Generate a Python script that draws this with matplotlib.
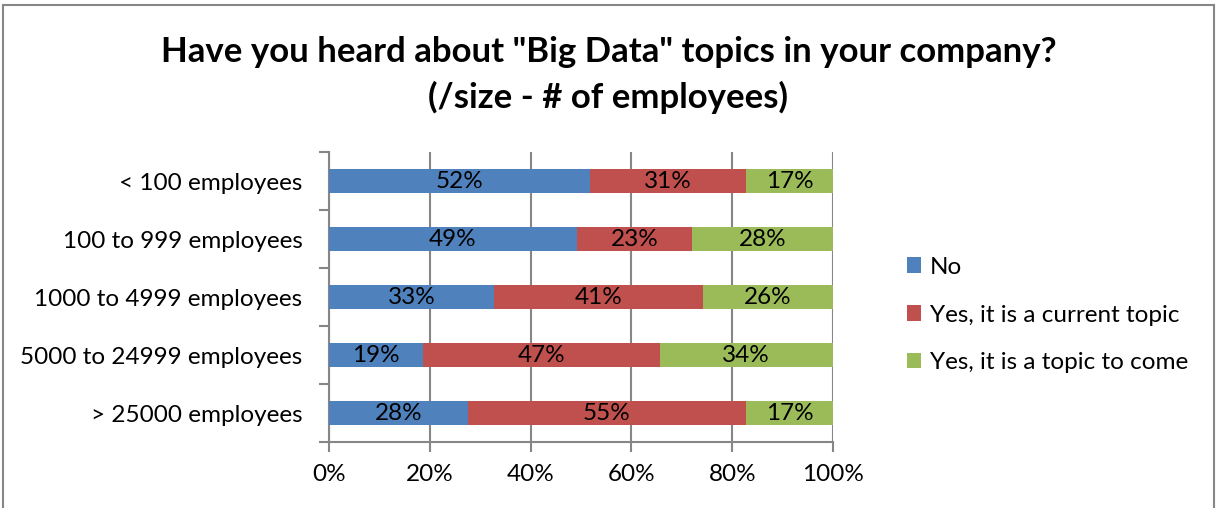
import matplotlib.pyplot as plt
import matplotlib.patches as mpatches
from matplotlib.ticker import FixedLocator, PercentFormatter

plt.rcParams['font.family'] = ['Lato', 'DejaVu Sans']

categories = ["< 100 employees", "100 to 999 employees", "1000 to 4999 employees",
              "5000 to 24999 employees", "> 25000 employees"]
no_vals = [51.7, 49.2, 32.8, 18.7, 27.5]
current_vals = [31.1, 22.8, 41.4, 46.9, 55.3]
come_vals = [17.2, 28.0, 25.8, 34.4, 17.2]
series_names = ["No", "Yes, it is a current topic", "Yes, it is a topic to come"]
colors = ["#4F81BD", "#C0504D", "#9BBB59"]
grey = "#868686"

fig = plt.figure(figsize=(12.17, 5.08), dpi=100)
fig.patches.append(mpatches.Rectangle((3 / 1217, -0.05), 1211 / 1217, 1.05 - 5 / 508,
                                      transform=fig.transFigure, fill=False,
                                      edgecolor=grey, linewidth=1.5))

ax = fig.add_axes([329 / 1217, 1 - 442 / 508, 504 / 1217, 290 / 508])

ypos = list(range(len(categories)))
left = [0] * len(categories)
for vals, name, col in zip([no_vals, current_vals, come_vals], series_names, colors):
    fracs = [v / 100 for v in vals]
    bars = ax.barh(ypos, fracs, left=left, height=0.4, color=col, label=name, zorder=3)
    for y, l, f, v in zip(ypos, left, fracs, vals):
        ax.text(l + f / 2, y, "%d%%" % round(v), ha="center", va="center",
                fontsize=17.5, color="black", zorder=4)
    left = [a + b for a, b in zip(left, fracs)]

ax.set_xlim(0, 1)
ax.set_ylim(len(categories) - 0.5, -0.5)
ax.xaxis.set_major_locator(FixedLocator([0, 0.2, 0.4, 0.6, 0.8, 1.0]))
ax.xaxis.set_major_formatter(PercentFormatter(1.0, decimals=0))
ax.set_yticks(ypos)
ax.set_yticklabels(categories)
ax.yaxis.set_minor_locator(FixedLocator([i - 0.5 for i in range(len(categories) + 1)]))
ax.tick_params(axis="y", which="major", length=0, pad=19, labelsize=17.5)
ax.tick_params(axis="y", which="minor", length=7, width=1.5, color=grey, direction="out")
ax.tick_params(axis="x", which="major", length=7, width=1.5, color=grey, direction="out",
               pad=9, labelsize=17.5)
ax.grid(axis="x", color=grey, linewidth=1.5, zorder=0)
for s in ["top", "right"]:
    ax.spines[s].set_visible(False)
for s in ["left", "bottom"]:
    ax.spines[s].set_color(grey)
    ax.spines[s].set_linewidth(1.5)

fig.text(0.5, 1 - 52 / 508, 'Have you heard about "Big Data" topics in your company?',
         ha="center", va="center", fontsize=25, fontweight="bold")
fig.text(0.5, 1 - 97 / 508, "(/size - # of employees)",
         ha="center", va="center", fontsize=25, fontweight="bold")

fig.legend(loc="center left", bbox_to_anchor=(885 / 1217, 1 - 315 / 508), frameon=False,
           fontsize=17.5, handlelength=0.6, handleheight=0.6, handletextpad=0.35,
           labelspacing=1.1)

fig.savefig("out.png", dpi=100)
